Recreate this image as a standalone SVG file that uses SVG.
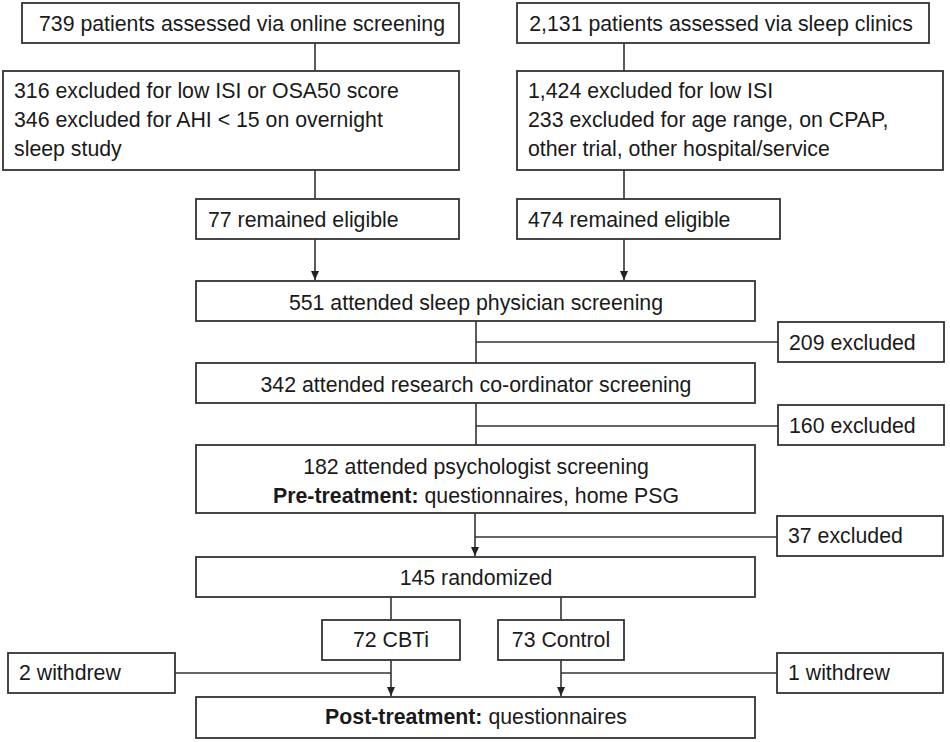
<svg xmlns="http://www.w3.org/2000/svg" width="950" height="742" viewBox="0 0 950 742">
<style>
.box{fill:#fff;stroke:#333;stroke-width:1.8}
.t{font-family:"Liberation Sans",Arial,sans-serif;font-size:21.3px;fill:#1a1a1a}
.c{text-anchor:middle}
.b{font-weight:bold}
.ln{fill:none;stroke:#333;stroke-width:1.6}
</style>
<defs>
<marker id="ah" markerWidth="10" markerHeight="10" refX="9" refY="5" orient="auto" markerUnits="userSpaceOnUse">
<path d="M0,1 L9,5 L0,9 Z" fill="#222"/>
</marker>
</defs>
<rect width="950" height="742" fill="#fff"/>
<g id="connectors">
<line class="ln" x1="315" y1="43" x2="315" y2="71"/>
<line class="ln" x1="315" y1="170" x2="315" y2="199"/>
<line class="ln" x1="624" y1="43" x2="624" y2="71"/>
<line class="ln" x1="624" y1="170" x2="624" y2="199"/>
<line class="ln" x1="315" y1="239" x2="315" y2="280" marker-end="url(#ah)"/>
<line class="ln" x1="624" y1="239" x2="624" y2="280" marker-end="url(#ah)"/>
<line class="ln" x1="476" y1="321" x2="476" y2="363"/>
<line class="ln" x1="476" y1="342" x2="778" y2="342"/>
<line class="ln" x1="476" y1="403" x2="476" y2="445"/>
<line class="ln" x1="476" y1="426" x2="778" y2="426"/>
<line class="ln" x1="475" y1="513" x2="475" y2="556" marker-end="url(#ah)"/>
<line class="ln" x1="475" y1="537" x2="777" y2="537"/>
<line class="ln" x1="391" y1="597" x2="391" y2="620"/>
<line class="ln" x1="561" y1="597" x2="561" y2="620"/>
<line class="ln" x1="391" y1="660" x2="391" y2="696" marker-end="url(#ah)"/>
<line class="ln" x1="175" y1="673" x2="391" y2="673"/>
<line class="ln" x1="561" y1="660" x2="561" y2="696" marker-end="url(#ah)"/>
<line class="ln" x1="561" y1="673" x2="777" y2="673"/>
</g>
<g id="online">
<rect class="box" x="22" y="3" width="437" height="40"/>
<text class="t c" x="242" y="31">739 patients assessed via online screening</text>
</g>
<g id="online-excl">
<rect class="box" x="3" y="71" width="456" height="99"/>
<text class="t" x="14" y="98">316 excluded for low ISI or OSA50 score</text>
<text class="t" x="14" y="127">346 excluded for AHI &lt; 15 on overnight</text>
<text class="t" x="14" y="156">sleep study</text>
</g>
<g id="online-elig">
<rect class="box" x="196" y="199" width="263" height="40"/>
<text class="t" x="208" y="227">77 remained eligible</text>
</g>
<g id="clinic">
<rect class="box" x="517" y="3" width="412" height="40"/>
<text class="t c" x="721" y="31">2,131 patients assessed via sleep clinics</text>
</g>
<g id="clinic-excl">
<rect class="box" x="517" y="71" width="426" height="99"/>
<text class="t" x="528" y="98">1,424 excluded for low ISI</text>
<text class="t" x="528" y="127">233 excluded for age range, on CPAP,</text>
<text class="t" x="528" y="156">other trial, other hospital/service</text>
</g>
<g id="clinic-elig">
<rect class="box" x="517" y="199" width="263" height="40"/>
<text class="t" x="528" y="227">474 remained eligible</text>
</g>
<g id="physician">
<rect class="box" x="196" y="281" width="559" height="40"/>
<text class="t c" x="476" y="310">551 attended sleep physician screening</text>
</g>
<g id="excl209">
<rect class="box" x="778" y="322" width="166" height="40"/>
<text class="t" x="789" y="350">209 excluded</text>
</g>
<g id="coordinator">
<rect class="box" x="196" y="363" width="559" height="40"/>
<text class="t c" x="476" y="392">342 attended research co-ordinator screening</text>
</g>
<g id="excl160">
<rect class="box" x="778" y="405" width="166" height="40"/>
<text class="t" x="789" y="433">160 excluded</text>
</g>
<g id="psychologist">
<rect class="box" x="196" y="445" width="559" height="68"/>
<text class="t c" x="476" y="474">182 attended psychologist screening</text>
<text class="t c" x="476" y="503"><tspan class="b">Pre-treatment:</tspan> questionnaires, home PSG</text>
</g>
<g id="excl37">
<rect class="box" x="777" y="516" width="166" height="40"/>
<text class="t" x="788" y="543">37 excluded</text>
</g>
<g id="randomized">
<rect class="box" x="196" y="557" width="559" height="40"/>
<text class="t c" x="476" y="585">145 randomized</text>
</g>
<g id="cbti">
<rect class="box" x="322" y="620" width="138" height="40"/>
<text class="t c" x="391" y="647">72 CBTi</text>
</g>
<g id="control">
<rect class="box" x="498" y="620" width="126" height="40"/>
<text class="t c" x="561" y="647">73 Control</text>
</g>
<g id="withdrew2">
<rect class="box" x="8" y="653" width="167" height="40"/>
<text class="t" x="19" y="680">2 withdrew</text>
</g>
<g id="withdrew1">
<rect class="box" x="777" y="653" width="166" height="40"/>
<text class="t" x="788" y="680">1 withdrew</text>
</g>
<g id="post">
<rect class="box" x="196" y="697" width="559" height="41"/>
<text class="t c" x="476" y="724"><tspan class="b">Post-treatment:</tspan> questionnaires</text>
</g>
</svg>
